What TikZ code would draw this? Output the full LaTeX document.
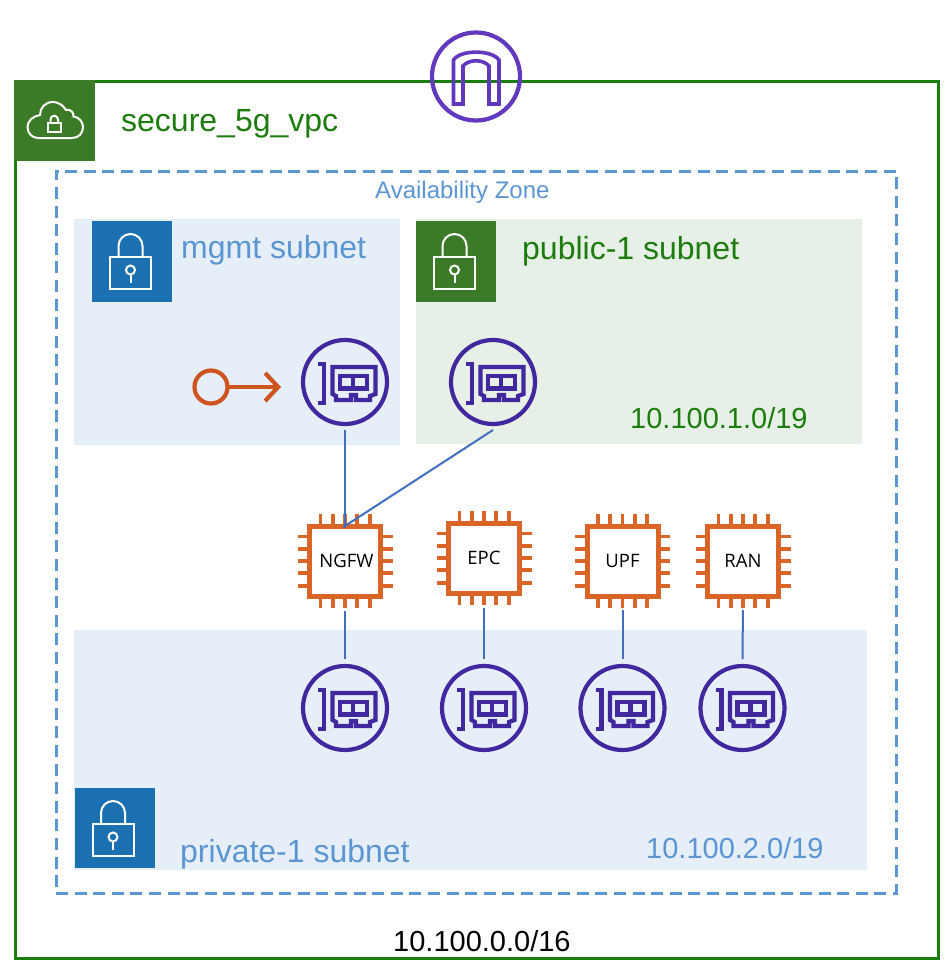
\documentclass[tikz,border=0pt]{standalone}
\usepackage{fontspec}
\setmainfont{Liberation Sans}
\newfontfamily\chipfont{Open Sans}
\usetikzlibrary{arrows.meta}
\definecolor{vpcgreen}{HTML}{1D7C0E}
\definecolor{boxgreen}{HTML}{3B7A26}
\definecolor{pubfill}{HTML}{E7F0E6}
\definecolor{azblue}{HTML}{5B96D3}
\definecolor{lockblue}{HTML}{1A70B0}
\definecolor{subfill}{HTML}{E6EFF7}
\definecolor{nicpurple}{HTML}{41289E}
\definecolor{gwpurple}{HTML}{6138BE}
\definecolor{chiporange}{HTML}{DA6527}
\definecolor{keyorange}{HTML}{CF5520}
\definecolor{linkblue}{HTML}{3F6FBE}
\tikzset{
  lbl/.style={anchor=base west,inner sep=0pt,font=\fontsize{#1}{#1}\selectfont},
  subnetarea/.style={inner sep=0pt,outer sep=0pt,anchor=north west},
  lockbox/.style={fill=#1,draw=none,inner sep=0pt,outer sep=0pt,anchor=north west,minimum width=80pt,minimum height=81pt},
  nicnode/.style={circle,draw=nicpurple,line width=4.2pt,minimum size=84pt,inner sep=0pt,outer sep=0pt},
  chipnode/.style={rectangle,draw=chiporange,line width=5pt,fill=white,minimum width=71pt,minimum height=70pt,inner sep=0pt,outer sep=0pt,font=\chipfont\fontsize{18.5}{18.5}\selectfont,text=black},
  pin/.style={draw=chiporange,line width=3.8pt},
  linkline/.style={draw=linkblue,line width=2pt},
  iconline/.style={draw=white,line width=2pt}
}
\newcommand{\nicicon}[1]{%
  \begin{scope}[shift={(#1)},draw=nicpurple,line width=4.2pt,line join=miter]
    \draw (-27,-18) -- (-21,-18) -- (-21,21) -- (-27,21);
    \draw (-12.5,-15) -- (30.5,-15) -- (30.5,12) -- (25,14) -- (25,18) -- (11,18) -- (11,13) -- (6,13) -- (6,18) -- (-9,18) -- (-9,14) -- (-12.5,12) -- cycle;
    \draw (-5,-6) rectangle (22,6.5);
    \draw (8,-6) -- (8,6.5);
  \end{scope}}
\newcommand{\chippins}[1]{%
  \begin{scope}[shift={(#1)}]
    \foreach \d in {-24.6,-12.3,0,12.3,24.6}{
      \draw[pin] (\d,-47) -- (\d,-36);
      \draw[pin] (\d,36) -- (\d,47);
      \draw[pin] (-47.5,\d) -- (-36,\d);
      \draw[pin] (36,\d) -- (47.5,\d);
    }
  \end{scope}}
\newcommand{\lockicon}[1]{%
  \begin{scope}[shift={(#1)},iconline]
    \draw (18,36) rectangle (59,68);
    \draw (26.5,36) -- (26.5,25) arc[start angle=180,end angle=360,x radius=12,y radius=12] -- (50.5,36);
    \draw (38.5,49) circle[radius=4.5];
    \draw (38.5,53.5) -- (38.5,62);
  \end{scope}}
\begin{document}
\begin{tikzpicture}[x=1pt,y=-1pt]
\useasboundingbox (0,0) rectangle (951,974);
\fill[white] (0,0) rectangle (951,974);

% VPC
\node[draw=vpcgreen,line width=3pt,inner sep=0pt,outer sep=0pt,anchor=north west,minimum width=923pt,minimum height=877pt] (vpc) at (15,81) {};
\node[lockbox=boxgreen,minimum width=81pt] (vpchead) at (14,80) {};
\begin{scope}[iconline]
  \draw (38,138) -- (72,138) .. controls (79,138) and (83,133) .. (83,127)
    .. controls (83,122) and (79,117) .. (73.5,116.5)
    .. controls (74,112) and (70,109) .. (66,110)
    .. controls (63,105) and (58,102) .. (53,102)
    .. controls (45,102) and (40,108) .. (40,115)
    .. controls (33,116) and (27.5,121) .. (27.5,127)
    .. controls (27.5,133) and (32,138) .. (38,138) -- cycle;
  \draw (48,122.5) rectangle (60.5,132);
  \draw (50.5,122.5) -- (50.5,119.5) arc[start angle=180,end angle=360,radius=3.75] -- (58,122.5);
\end{scope}
\node[lbl=32,text=vpcgreen] (vpcname) at (121,131) {secure\_5g\_vpc};
\node[lbl=29,text=black] (vpccidr) at (393,951) {10.100.0.0/16};

% Availability zone
\node[draw=azblue,dash pattern=on 12pt off 6.6pt,line width=3pt,inner sep=0pt,outer sep=0pt,anchor=north west,minimum width=840pt,minimum height=722pt] (az) at (56,171) {};
\node[lbl=24,text=azblue] (azname) at (375,198) {Availability Zone};

% Subnets
\node[subnetarea,fill=subfill,minimum width=326pt,minimum height=226pt] (mgmt) at (74,219) {};
\node[subnetarea,fill=pubfill,minimum width=446pt,minimum height=225pt] (public) at (416,219) {};
\node[subnetarea,fill=subfill,minimum width=793pt,minimum height=240pt] (private) at (74,630) {};
\node[lockbox=lockblue] (mgmtlock) at (92,221) {};
\node[lockbox=boxgreen] (publock) at (416,221) {};
\node[lockbox=lockblue,minimum height=80pt] (privlock) at (74.5,788) {};
\lockicon{92,221}
\lockicon{416,221}
\lockicon{74.5,788}
\node[lbl=32,text=azblue] (mgmtname) at (181,258) {mgmt subnet};
\node[lbl=32,text=vpcgreen] (pubname) at (522,259) {public-1 subnet};
\node[lbl=32,text=azblue] (privname) at (180,862) {private-1 subnet};
\node[lbl=29,text=vpcgreen] (pubcidr) at (630,428) {10.100.1.0/19};
\node[lbl=29,text=azblue] (privcidr) at (646,858) {10.100.2.0/19};

% Gateway
\node[circle,draw=gwpurple,line width=4.2pt,minimum size=88pt,inner sep=0pt,outer sep=0pt] (gateway) at (476,76.5) {};
\draw[gwpurple,line width=3.6pt,line join=miter] (453.5,104) -- (453.5,60) .. controls (460,49.5) and (492,49.5) .. (499,60) -- (499,104) -- (489,104) -- (489,66) .. controls (483,59) and (469,59) .. (463,66) -- (463,104) -- cycle;

% NICs
\node[nicnode] (nicmgmt) at (345,382) {};
\node[nicnode] (nicpub) at (493,382) {};
\node[nicnode] (nicngfw) at (345,708) {};
\node[nicnode] (nicepc) at (484,708) {};
\node[nicnode] (nicupf) at (622.5,708) {};
\node[nicnode] (nicran) at (742.5,708) {};
\nicicon{345,382}
\nicicon{493,382}
\nicicon{345,708}
\nicicon{484,708}
\nicicon{622.5,708}
\nicicon{742.5,708}

% Instances
\chippins{345,561}
\chippins{484,558}
\chippins{622.5,561}
\chippins{743,561}
\node[chipnode] (ngfw) at (345,561) {\hspace*{3pt}NGFW};
\node[chipnode] (epc) at (484,558) {EPC};
\node[chipnode] (upf) at (622.5,561) {UPF};
\node[chipnode] (ran) at (743,561) {RAN};

% Key endpoint
\node[circle,draw=keyorange,line width=4.2pt,minimum size=33pt,inner sep=0pt,outer sep=0pt] (eip) at (211,387) {};
\draw[keyorange,line width=4.2pt,-{Straight Barb[length=13pt,width=28pt,line width=4.2pt]},shorten >=22pt] (eip.east) -- (nicmgmt.west |- eip.east);

% Connectors
\coordinate (pubtap) at (493,430);
\draw[linkline,shorten <=6pt,shorten >=-2pt] (nicmgmt.south) -- (ngfw.north);
\draw[linkline,shorten >=-2pt] (pubtap) -- (ngfw.north);
\draw[linkline,shorten <=15pt,shorten >=7pt] (ngfw.south) -- (nicngfw.north);
\draw[linkline,shorten <=15pt,shorten >=7pt] (epc.south) -- (nicepc.north);
\draw[linkline,shorten <=14pt,shorten >=7pt] (upf.south) -- (nicupf.north);
\draw[linkline,shorten <=14pt,shorten >=7pt] (ran.south) -- (nicran.north);
\end{tikzpicture}
\end{document}
